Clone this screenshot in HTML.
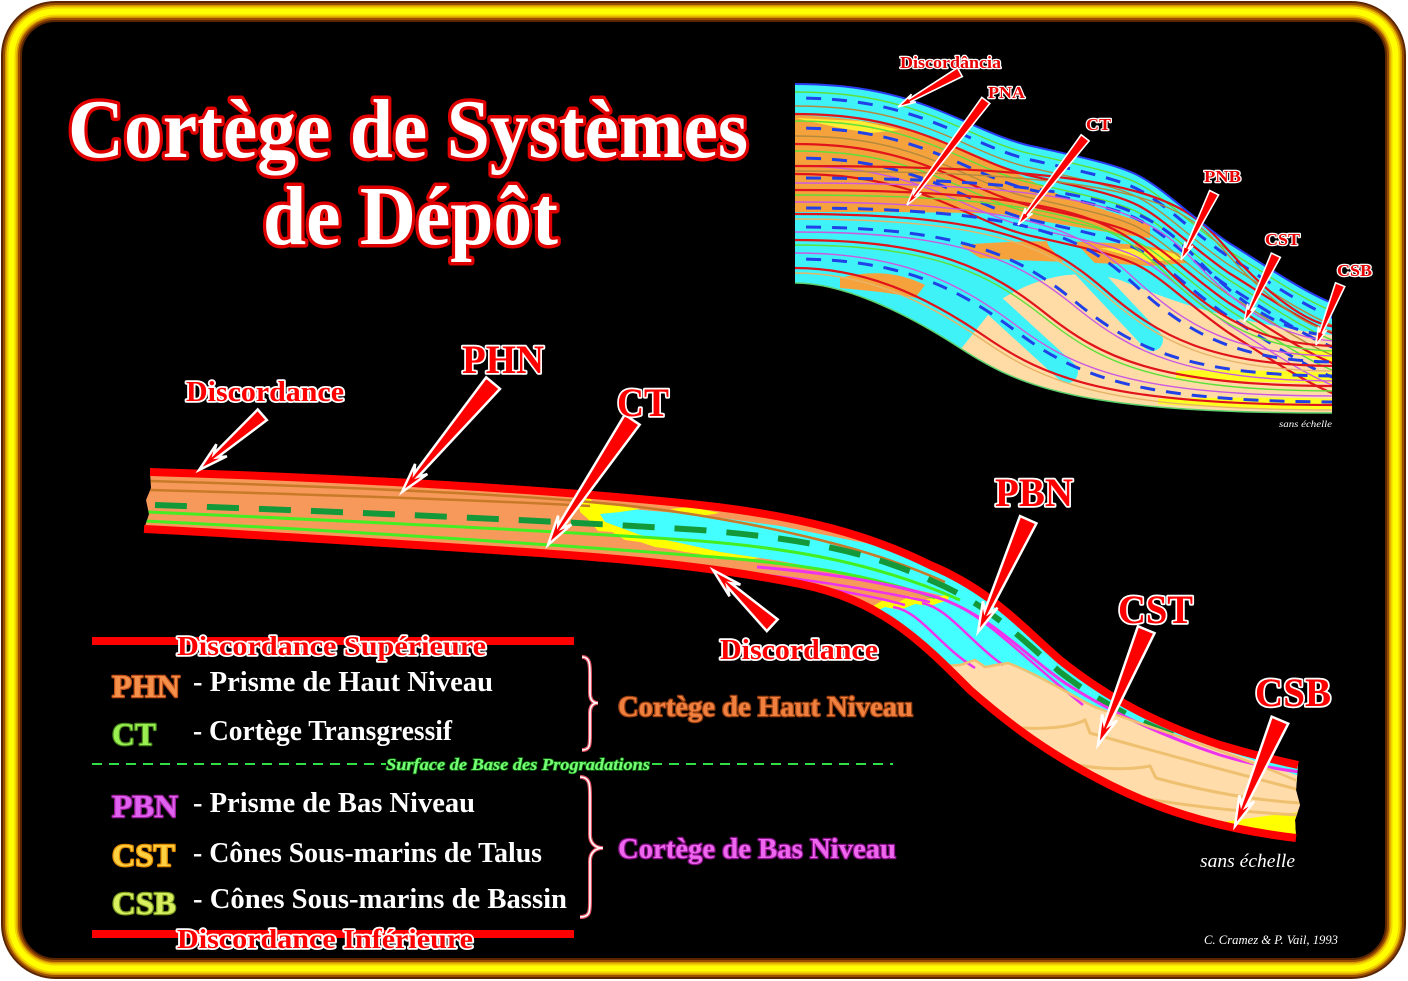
<!DOCTYPE html>
<html><head><meta charset="utf-8">
<style>
html,body{margin:0;padding:0;background:#fff;}
svg{display:block;}
.tt{font-family:"Liberation Serif",serif;font-weight:bold;fill:#fff;stroke:#e00000;stroke-width:7;paint-order:stroke;stroke-linejoin:round;}
.lb{font-family:"Liberation Serif",serif;font-weight:bold;fill:#f00;stroke:#fff;stroke-width:3.5;paint-order:stroke;stroke-linejoin:round;}
.il{font-family:"Liberation Serif",serif;font-weight:bold;fill:#e80000;stroke:#fff;stroke-width:2.4;paint-order:stroke;stroke-linejoin:round;}
.ld{font-family:"Liberation Serif",serif;font-weight:bold;fill:#fff;}
.ab{font-family:"Liberation Serif",serif;font-weight:bold;stroke-width:2.5;paint-order:stroke;stroke-linejoin:round;}
.arr{fill:#f00;stroke:#fff;stroke-width:2.5;stroke-linejoin:miter;}
.iar{fill:#f00;stroke:#fff;stroke-width:1.6;}
</style></head>
<body>
<svg width="1408" height="981" viewBox="0 0 1408 981" xmlns="http://www.w3.org/2000/svg">
<defs>
 <clipPath id="cb"><path d="M150,472 C350,478 560,490 700,505 C800,516 870,535 930,565 C990,590 1020,625 1060,660 C1110,700 1160,725 1220,745 C1250,754 1275,760 1298,765 L1296,790 L1300,805 L1295,820 L1296,838 C1230,830 1170,815 1110,785 C1050,755 1010,725 970,690 C920,640 880,600 800,584 C720,568 640,560 540,553 C400,544 250,534 144,529 L149,514 L146,500 L151,488 Z"/></clipPath>
 <clipPath id="ci"><path d="M795,84 C850,84 890,92 930,107 C970,122 1000,140 1036,147 C1080,157 1120,165 1141,177 C1165,190 1195,220 1229,243 C1260,262 1300,290 1332,303 L1332,413 C1080,413 1020,387 960,348 C900,309 840,283 795,283 Z"/></clipPath>
 <path id="itop" d="M780,84 L795,84 C850,84 890,92 930,107 C970,122 1000,140 1036,147 C1080,157 1120,165 1141,177 C1165,190 1195,220 1229,243 C1260,262 1300,290 1332,303 L1345,309"/>
 <path id="s1" d="M780,268 L795,268 C865,268 925,295.4 985,336.5 C1045,377.6 1105,405 1340,405"/>
 <path id="s2" d="M780,253 L795,253 C900,253 957.5,281.6 1015,324.5 C1072.5,367.4 1130,396 1340,396"/>
 <path id="s3" d="M780,240 L795,240 C935,240 990,269.2 1045,313 C1100,356.8 1155,386 1340,386"/>
 <path id="s4" d="M780,227 L795,227 C965,227 1020,256.8 1075,301.5 C1130,346.2 1185,376 1340,376"/>
 <path id="s5" d="M780,214 L795,214 C1000,214 1052.5,244.4 1105,290 C1157.5,335.6 1210,366 1340,366"/>
 <path id="s6" d="M780,202 L795,202 C1035,202 1085,232.8 1135,279 C1185,325.2 1235,356 1340,356"/>
 <path id="s7" d="M780,190 L795,190 C1070,190 1117.5,221.2 1165,268 C1212.5,314.8 1260,346 1340,346"/>
 <path id="s8" d="M780,178 L795,178 C1105,178 1150,209.6 1195,257 C1240,304.4 1285,336 1340,336"/>
 <path id="s9" d="M780,166 L795,166 C1140,166 1182.5,198.2 1225,246.5 C1267.5,294.8 1310,327 1340,327"/>
</defs>

<rect width="1408" height="981" fill="#fff"/>
<!-- frame -->
<rect x="11.5" y="11.5" width="1384" height="957" rx="44" fill="#000" stroke="#5a2500" stroke-width="21"/>
<rect x="11.5" y="11.5" width="1384" height="957" rx="44" fill="none" stroke="#9a4e00" stroke-width="17"/>
<rect x="11.5" y="11.5" width="1384" height="957" rx="44" fill="none" stroke="#d49400" stroke-width="13"/>
<rect x="11.5" y="11.5" width="1384" height="957" rx="44" fill="none" stroke="#f2d200" stroke-width="10"/>
<rect x="11.5" y="11.5" width="1384" height="957" rx="44" fill="none" stroke="#ffff00" stroke-width="6"/>

<!-- title -->
<text class="tt" x="68" y="157" font-size="84" textLength="680" lengthAdjust="spacingAndGlyphs">Cortège de Systèmes</text>
<text class="tt" x="263" y="244" font-size="84" textLength="295" lengthAdjust="spacingAndGlyphs">de Dépôt</text>

<!-- inset -->
<g clip-path="url(#ci)">
 <rect x="785" y="80" width="560" height="340" fill="#3ff2f8"/>
 <path d="M795,115 C850,117 900,125 940,140 C980,155 1020,175 1060,195 C1090,205 1120,215 1150,225 L1150,238 C1100,232 1050,222 1000,214 C950,212 870,212 795,212 Z" fill="#f6a23c"/>
 <path d="M795,118 L860,121 L900,130 L870,133 L840,128 Z" fill="#ffee33"/>
 <path d="M960,245 C1020,240 1080,240 1140,245 C1170,250 1190,255 1200,262 L1150,266 C1100,262 1040,262 980,258 Z" fill="#f6a23c"/>
 <path d="M1100,248 L1160,250 L1190,258 L1150,262 Z" fill="#ffee33"/>
 <path d="M840,278 C870,270 900,272 925,285 L915,298 C890,292 860,290 840,288 Z" fill="#f6a23c"/>
 <path d="M1000,300 C1040,275 1080,268 1120,280 C1170,300 1220,320 1332,335 L1332,420 L960,420 L960,350 Z" fill="#ffdca6"/>
 <g stroke="#3ff2f8" stroke-width="22" stroke-linecap="round">
  <line x1="963" y1="277" x2="1067" y2="372"/>
  <line x1="1058" y1="240" x2="1152" y2="340"/>
  <line x1="1155" y1="205" x2="1236" y2="309"/>
 </g>
 <path d="M1176,371 C1220,369 1280,371 1340,373 L1340,383 C1280,383 1220,381 1176,378 Z" fill="#ffff22"/>
 <path d="M1281,353 L1340,349 L1340,363 Z" fill="#ffff22"/>
 <path d="M1158,399 C1220,397 1280,397 1340,399 L1340,409 C1280,410 1220,408 1158,404 Z" fill="#ffff22"/>
 <g fill="none">
  <use href="#itop" transform="translate(0,8)" stroke="#5ee03a" stroke-width="1.4"/>
  <use href="#itop" transform="translate(0,14)" stroke="#2040e8" stroke-width="3" stroke-dasharray="15 11"/>
  <use href="#itop" transform="translate(0,22)" stroke="#b48a3c" stroke-width="1.4"/>
  <use href="#itop" transform="translate(0,30)" stroke="#e0141a" stroke-width="2.2"/>
  <use href="#itop" transform="translate(0,37)" stroke="#5ee03a" stroke-width="1.4"/>
  <use href="#itop" transform="translate(0,44)" stroke="#2040e8" stroke-width="3" stroke-dasharray="15 11"/>
  <use href="#itop" transform="translate(0,52)" stroke="#b48a3c" stroke-width="1.4"/>
  <use href="#itop" transform="translate(0,60)" stroke="#e0141a" stroke-width="2.2"/>
  <use href="#itop" transform="translate(0,67)" stroke="#5ee03a" stroke-width="1.4"/>
  <use href="#itop" transform="translate(0,74)" stroke="#2040e8" stroke-width="3" stroke-dasharray="15 11"/>
  <use href="#itop" transform="translate(0,82)" stroke="#cc5ae0" stroke-width="1.4"/>
  <use href="#itop" transform="translate(0,90)" stroke="#e0141a" stroke-width="2.2"/>

  <use href="#s9" stroke="#e0141a" stroke-width="2.2"/>
  <use href="#s9" transform="translate(0,5)" stroke="#b48a3c" stroke-width="1.4"/>
  <use href="#s8" stroke="#2040e8" stroke-width="3" stroke-dasharray="15 11"/>
  <use href="#s8" transform="translate(0,5)" stroke="#cc5ae0" stroke-width="1.4"/>
  <use href="#s7" stroke="#e0141a" stroke-width="2.2"/>
  <use href="#s7" transform="translate(0,5)" stroke="#5ee03a" stroke-width="1.4"/>
  <use href="#s6" stroke="#cc5ae0" stroke-width="1.4"/>
  <use href="#s6" transform="translate(0,6)" stroke="#2040e8" stroke-width="3" stroke-dasharray="15 11"/>
  <use href="#s5" stroke="#e0141a" stroke-width="2.2"/>
  <use href="#s5" transform="translate(0,5)" stroke="#e6b466" stroke-width="1.4"/>
  <use href="#s4" stroke="#2040e8" stroke-width="3" stroke-dasharray="15 11"/>
  <use href="#s4" transform="translate(0,5)" stroke="#cc5ae0" stroke-width="1.4"/>
  <use href="#s3" stroke="#e0141a" stroke-width="2.2"/>
  <use href="#s3" transform="translate(0,5)" stroke="#5ee03a" stroke-width="1.4"/>
  <use href="#s2" stroke="#cc5ae0" stroke-width="1.4"/>
  <use href="#s2" transform="translate(0,6)" stroke="#2040e8" stroke-width="3" stroke-dasharray="15 11"/>
  <use href="#s1" stroke="#e0141a" stroke-width="2.2"/>
  <use href="#s1" transform="translate(0,5)" stroke="#e6b466" stroke-width="1.4"/>
 </g>
</g>
<path d="M795,84 C850,84 890,92 930,107 C970,122 1000,140 1036,147 C1080,157 1120,165 1141,177 C1165,190 1195,220 1229,243 C1260,262 1300,290 1332,303" fill="none" stroke="#2a3cf0" stroke-width="2"/>
<path d="M1332,413 C1080,413 1020,387 960,348 C900,309 840,283 795,283" fill="none" stroke="#5ad06a" stroke-width="1.5"/>

<!-- inset labels & arrows -->
<text class="il" x="900" y="68" font-size="17" textLength="101" lengthAdjust="spacingAndGlyphs">Discordância</text>
<text class="il" x="988" y="98" font-size="17" textLength="37" lengthAdjust="spacingAndGlyphs">PNA</text>
<text class="il" x="1086" y="130" font-size="17" textLength="25" lengthAdjust="spacingAndGlyphs">CT</text>
<text class="il" x="1204" y="182" font-size="17" textLength="37" lengthAdjust="spacingAndGlyphs">PNB</text>
<text class="il" x="1265" y="245" font-size="17" textLength="35" lengthAdjust="spacingAndGlyphs">CST</text>
<text class="il" x="1337" y="276" font-size="17" textLength="35" lengthAdjust="spacingAndGlyphs">CSB</text>
<polygon class="iar" transform="translate(898,107) rotate(150.6)" points="-71,-5 -13,-1.5 -18,-4.5 0,0 -18,4.5 -13,1.5 -71,5"/>
<polygon class="iar" transform="translate(907,205) rotate(127)" points="-131,-5 -13,-1.5 -18,-4.5 0,0 -18,4.5 -13,1.5 -131,5"/>
<polygon class="iar" transform="translate(1018,225) rotate(127.6)" points="-110,-5 -13,-1.5 -18,-4.5 0,0 -18,4.5 -13,1.5 -110,5"/>
<polygon class="iar" transform="translate(1181,260) rotate(116.2)" points="-75,-5 -13,-1.5 -18,-4.5 0,0 -18,4.5 -13,1.5 -75,5"/>
<polygon class="iar" transform="translate(1244,322) rotate(115.5)" points="-74,-5 -13,-1.5 -18,-4.5 0,0 -18,4.5 -13,1.5 -74,5"/>
<polygon class="iar" transform="translate(1316,345) rotate(111.8)" points="-65,-5 -13,-1.5 -18,-4.5 0,0 -18,4.5 -13,1.5 -65,5"/>
<text x="1279" y="427" font-family="Liberation Serif, serif" font-style="italic" font-size="9" fill="#fff" textLength="53" lengthAdjust="spacingAndGlyphs">sans échelle</text>

<!-- main band -->
<g clip-path="url(#cb)">
 <rect x="140" y="460" width="1170" height="400" fill="#f7995a"/>
 <path d="M578,500 L620,508 L700,515 L780,526 L850,540 L890,548 L900,450 L1320,450 L1320,795 L1214,758 L1095,717 L1010,672 L980,640 L948,597 L900,586 L840,572 L780,561 L720,552 L680,543 L640,535 L605,522 Z" fill="#44ffff"/>
 <path d="M578,499 L590,498 L605,522 L640,535 L680,543 L720,552 L760,558 L745,560 L730,557 L715,559 L700,554 L685,552 L670,549 L655,547 L640,542 L625,540 L612,532 L598,531 L588,519 L580,512 Z" fill="#ffff00"/>
 <path d="M575,497 L600,503 L640,509 L620,512 L600,514 L590,510 Z" fill="#ffff00"/>
 <path d="M670,509 L690,507 L720,513 L700,516 Z" fill="#ffff00"/>
 <path d="M845,612 L905,604 L950,596 L985,640 L1015,672 L1010,720 L937,690 L880,650 L845,630 Z" fill="#44ffff"/>
 <path d="M845,611 L860,604 L870,608 L885,599 L895,604 L910,596 L925,600 L950,594 L948,600 L930,606 L915,604 L900,610 L885,607 L870,614 L855,612 Z" fill="#ffff00"/>
 <path d="M880,648 L900,662 L937,667 L960,665 L975,660 L985,667 L1008,663 L1056,687 L1095,707 L1214,747 L1320,783 L1320,900 L850,900 Z" fill="#ffdcaa"/>
 <path d="M1170,829 C1220,823 1260,816 1300,812 L1300,850 L1170,850 Z" fill="#ffff00"/>
 <g fill="none">
  <path d="M150,481 C350,487 520,495 600,503 C680,510 760,525 820,540 C860,550 900,562 945,582" stroke="#c97a28" stroke-width="2.5"/>
  <path d="M150,490 C330,495 480,500 590,506" stroke="#c97a28" stroke-width="2.5"/>
  <path d="M148,512 C350,521 560,531 700,541 C800,549 880,565 960,600" stroke="#44ee22" stroke-width="3"/>
  <path d="M145,521 C350,531 560,545 700,556 C800,563 870,575 935,598" stroke="#44ee22" stroke-width="3"/>
  <path d="M155,505 C350,512 560,521 700,530 C800,538 870,552 930,580 C990,605 1020,638 1060,672 C1100,703 1140,722 1178,737" stroke="#14993a" stroke-width="6" stroke-dasharray="32 20"/>
  <path d="M757,567 C840,574 900,585 945,600 C995,620 1025,655 1065,683 C1110,712 1160,735 1220,755 C1250,764 1275,769 1300,772" stroke="#ee33ee" stroke-width="3"/>
  <path d="M730,571 C800,578 870,589 930,602" stroke="#ee33ee" stroke-width="2.5"/>
  <path d="M760,579 C820,587 870,595 905,605" stroke="#ee33ee" stroke-width="2.5"/>
  <path d="M865,610 C890,614 905,642 932,664" stroke="#ee33ee" stroke-width="2.5"/>
  <path d="M893,607 C920,611 938,645 975,668" stroke="#ee33ee" stroke-width="2.5"/>
  <path d="M922,603 C948,608 968,640 1003,665" stroke="#ee33ee" stroke-width="2.5"/>
  <path d="M945,600 C985,615 1020,655 1083,705" stroke="#ee33ee" stroke-width="2.5"/>
  <path d="M930,667 L960,665 L975,660 L985,667 L1008,663 C1040,675 1070,695 1095,707 C1150,728 1230,752 1300,782" stroke="#eec070" stroke-width="2.5"/>
  <path d="M1005,727 C1040,730 1070,728 1085,720 L1090,733 C1150,750 1230,772 1300,790" stroke="#eec070" stroke-width="3"/>
  <path d="M1060,762 C1100,770 1130,770 1150,766 L1156,778 C1200,790 1250,800 1300,803" stroke="#eec070" stroke-width="3"/>
  <path d="M1130,796 C1180,805 1240,812 1300,815" stroke="#eec070" stroke-width="3"/>
 </g>
</g>
<path d="M150,472 C350,478 560,490 700,505 C800,516 870,535 930,565 C990,590 1020,625 1060,660 C1110,700 1160,725 1220,745 C1250,754 1275,760 1298,765" fill="none" stroke="#ff0000" stroke-width="8"/>
<path d="M144,529 C250,534 400,544 540,553 C640,560 720,568 800,584 C880,600 920,640 970,690 C1010,725 1050,755 1110,785 C1170,815 1230,830 1296,838" fill="none" stroke="#ff0000" stroke-width="8"/>

<!-- main arrows -->
<polygon class="arr" transform="translate(199,470) rotate(138.9)" points="-84,-7 -22,-2.5 -30,-8 0,0 -30,8 -22,2.5 -84,7"/>
<polygon class="arr" transform="translate(402,492) rotate(129.9)" points="-142,-9 -22,-2.5 -30,-8 0,0 -30,8 -22,2.5 -142,9"/>
<polygon class="arr" transform="translate(548,545) rotate(123.9)" points="-151,-9 -22,-2.5 -30,-8 0,0 -30,8 -22,2.5 -151,9"/>
<polygon class="arr" transform="translate(978,632) rotate(114.1)" points="-123,-9 -22,-2.5 -30,-8 0,0 -30,8 -22,2.5 -123,9"/>
<polygon class="arr" transform="translate(1098,745) rotate(112.7)" points="-125,-9 -22,-2.5 -30,-8 0,0 -30,8 -22,2.5 -125,9"/>
<polygon class="arr" transform="translate(1235,826) rotate(113)" points="-115,-9 -22,-2.5 -30,-8 0,0 -30,8 -22,2.5 -115,9"/>
<polygon class="arr" transform="translate(713,570) rotate(-137)" points="-81,-8 -22,-2.5 -30,-8 0,0 -30,8 -22,2.5 -81,8"/>

<!-- main labels -->
<text class="lb" x="186" y="401" font-size="28" textLength="158" lengthAdjust="spacingAndGlyphs">Discordance</text>
<text class="lb" x="462" y="373" font-size="40" textLength="82" lengthAdjust="spacingAndGlyphs">PHN</text>
<text class="lb" x="617" y="416" font-size="40" textLength="52" lengthAdjust="spacingAndGlyphs">CT</text>
<text class="lb" x="995" y="506" font-size="40" textLength="78" lengthAdjust="spacingAndGlyphs">PBN</text>
<text class="lb" x="1118" y="623" font-size="40" textLength="75" lengthAdjust="spacingAndGlyphs">CST</text>
<text class="lb" x="1255" y="706" font-size="40" textLength="76" lengthAdjust="spacingAndGlyphs">CSB</text>
<text class="lb" x="720" y="659" font-size="28" textLength="158" lengthAdjust="spacingAndGlyphs">Discordance</text>
<text x="1200" y="867" font-family="Liberation Serif, serif" font-style="italic" font-size="19" fill="#fff" textLength="95" lengthAdjust="spacingAndGlyphs">sans échelle</text>
<text x="1204" y="944" font-family="Liberation Serif, serif" font-style="italic" font-size="13" fill="#fff" textLength="134" lengthAdjust="spacingAndGlyphs">C. Cramez &amp; P. Vail, 1993</text>

<!-- legend -->
<rect x="92" y="637" width="482" height="8" fill="#ff0000"/>
<text class="lb" x="177" y="655" font-size="27" textLength="309" lengthAdjust="spacingAndGlyphs">Discordance Supérieure</text>
<text class="ab" x="112" y="697" font-size="32" fill="#f5904a" stroke="#c0501a" textLength="68" lengthAdjust="spacingAndGlyphs">PHN</text>
<text class="ld" x="193" y="691" font-size="28" textLength="300" lengthAdjust="spacingAndGlyphs">- Prisme de Haut Niveau</text>
<text class="ab" x="112" y="745" font-size="32" fill="#9af050" stroke="#4a8a20" textLength="44" lengthAdjust="spacingAndGlyphs">CT</text>
<text class="ld" x="193" y="740" font-size="28" textLength="259" lengthAdjust="spacingAndGlyphs">- Cortège Transgressif</text>
<path d="M582,657 C590,657 590,665 590,675 L590,693 C590,700 593,703 598,703 C593,703 590,706 590,713 L590,735 C590,745 590,750 582,750" fill="none" stroke="#e05060" stroke-width="4"/>
<path d="M582,657 C590,657 590,665 590,675 L590,693 C590,700 593,703 598,703 C593,703 590,706 590,713 L590,735 C590,745 590,750 582,750" fill="none" stroke="#fff" stroke-width="1.6"/>
<text class="ab" x="618" y="716" font-size="28" fill="#f08040" stroke="#9a4010" textLength="295" lengthAdjust="spacingAndGlyphs">Cortège de Haut Niveau</text>

<line x1="92" y1="764" x2="386" y2="764" stroke="#33dd44" stroke-width="2" stroke-dasharray="10 7"/>
<line x1="652" y1="764" x2="893" y2="764" stroke="#33dd44" stroke-width="2" stroke-dasharray="10 7"/>
<text x="386" y="770" font-family="Liberation Serif, serif" font-weight="bold" font-style="italic" font-size="17" fill="#77ff77" stroke="#117711" stroke-width="1.5" paint-order="stroke" textLength="264" lengthAdjust="spacingAndGlyphs">Surface de Base des Progradations</text>

<text class="ab" x="112" y="817" font-size="32" fill="#e060f0" stroke="#9a209a" textLength="66" lengthAdjust="spacingAndGlyphs">PBN</text>
<text class="ld" x="193" y="812" font-size="28" textLength="282" lengthAdjust="spacingAndGlyphs">- Prisme de Bas Niveau</text>
<text class="ab" x="112" y="866" font-size="32" fill="#ffd040" stroke="#e08a00" textLength="63" lengthAdjust="spacingAndGlyphs">CST</text>
<text class="ld" x="193" y="862" font-size="28" textLength="349" lengthAdjust="spacingAndGlyphs">- Cônes Sous-marins de Talus</text>
<text class="ab" x="112" y="914" font-size="32" fill="#d8f060" stroke="#7a9a20" textLength="64" lengthAdjust="spacingAndGlyphs">CSB</text>
<text class="ld" x="193" y="908" font-size="28" textLength="374" lengthAdjust="spacingAndGlyphs">- Cônes Sous-marins de Bassin</text>
<path d="M580,777 C590,777 590,785 590,797 L590,835 C590,843 595,848 603,848 C595,848 590,853 590,861 L590,900 C590,912 590,917 580,917" fill="none" stroke="#e05060" stroke-width="4"/>
<path d="M580,777 C590,777 590,785 590,797 L590,835 C590,843 595,848 603,848 C595,848 590,853 590,861 L590,900 C590,912 590,917 580,917" fill="none" stroke="#fff" stroke-width="1.6"/>
<text class="ab" x="618" y="858" font-size="28" fill="#ee66ee" stroke="#881088" textLength="278" lengthAdjust="spacingAndGlyphs">Cortège de Bas Niveau</text>

<rect x="92" y="930" width="482" height="8" fill="#ff0000"/>
<text class="lb" x="177" y="948" font-size="27" textLength="296" lengthAdjust="spacingAndGlyphs">Discordance Inférieure</text>
</svg>
</body></html>
